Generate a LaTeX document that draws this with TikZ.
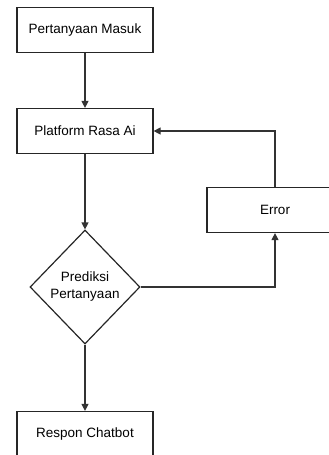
\documentclass[tikz,border=0pt]{standalone}
\usepackage{fontspec}
\setmainfont{Liberation Sans}
\usetikzlibrary{shapes.geometric, arrows.meta, positioning}

\begin{document}
\begin{tikzpicture}[x=1pt, y=-1pt,
		box/.style={draw=black!85, line width=1.2pt, minimum width=136pt, minimum height=45pt, font=\fontsize{13.5}{16}\selectfont},
		decision/.style={draw=black!85, line width=1.2pt, diamond, inner sep=0pt, minimum width=110pt, minimum height=114pt, align=center, font=\fontsize{13.5}{17}\selectfont},
		flow/.style={draw=black!80, line width=1.2pt, -{Triangle[length=7pt, width=7pt]}}]
	\useasboundingbox (0,0) rectangle (329,455);
	
	% Nodes
	\node[box] (masuk) at (85, 30) {Pertanyaan Masuk};
	\node[box] (rasa) at (85, 131) {Platform Rasa Ai};
	\node[decision] (prediksi) at (85, 287) {Prediksi\\Pertanyaan};
	\node[box] (error) at (275, 210) {Error};
	\node[box] (respon) at (85, 434) {Respon Chatbot};
	
	% Connectors
	\draw[flow] (masuk) -- (rasa);
	\draw[flow] (rasa) -- (prediksi);
	\draw[flow] (prediksi) -- (respon);
	\draw[flow] (prediksi.east) -| (error.south);
	\draw[flow] (error.north) |- (rasa.east);
	
\end{tikzpicture}
\end{document}
